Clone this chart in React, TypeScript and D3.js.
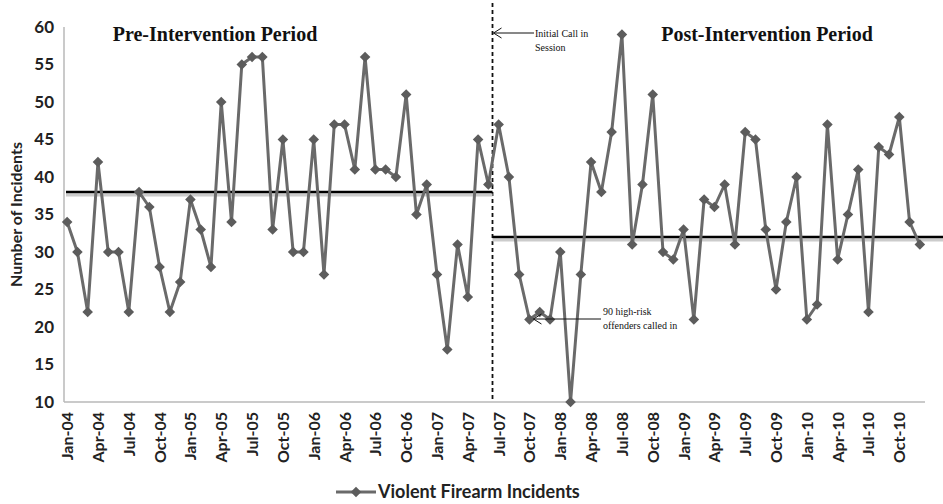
import * as d3 from 'd3'
import { useEffect, useRef } from 'react'

const MONTHS = ['Jan', 'Feb', 'Mar', 'Apr', 'May', 'Jun', 'Jul', 'Aug', 'Sep', 'Oct', 'Nov', 'Dec']
const YEARS = ['04', '05', '06', '07', '08', '09', '10']
const categories = YEARS.flatMap((y) => MONTHS.map((m) => `${m}-${y}`))

const preValues = [
  34, 30, 22, 42, 30, 30, 22, 38, 36, 28, 22, 26,
  37, 33, 28, 50, 34, 55, 56, 56, 33, 45, 30, 30,
  45, 27, 47, 47, 41, 56, 41, 41, 40, 51, 35, 39,
  27, 17, 31, 24, 45, 39,
]
const postValues = [
  47, 40, 27, 21, 22, 21,
  30, 10, 27, 42, 38, 46, 59, 31, 39, 51, 30, 29,
  33, 21, 37, 36, 39, 31, 46, 45, 33, 25, 34, 40,
  21, 23, 47, 29, 35, 41, 22, 44, 43, 48, 34, 31,
]
const values = [...preValues, ...postValues]
const preMean = 38
const postMean = 32
const yTicks = [10, 15, 20, 25, 30, 35, 40, 45, 50, 55, 60]

const W = 943
const H = 504
const sans = 'Lato, "Open Sans", sans-serif'
const serif = '"Liberation Serif", "DejaVu Serif", serif'

export default function App() {
  const ref = useRef<SVGSVGElement | null>(null)

  useEffect(() => {
    const svgEl = ref.current
    if (!svgEl) return
    const svg = d3.select(svgEl)
    svg.selectAll('*').remove()

    const left = 64
    const right = 925
    const top = 27
    const bottom = 402

    const x = d3.scaleBand<string>().domain(categories).range([left - 2, right])
    const cx = (c: string) => (x(c) ?? 0) + x.bandwidth() / 2
    const y = d3.scaleLinear().domain([10, 60]).range([bottom, top])

    // axis lines
    svg.append('line').attr('x1', left).attr('x2', left).attr('y1', top).attr('y2', bottom)
      .attr('stroke', '#b8b8b8').attr('stroke-width', 1.5)
    svg.append('line').attr('x1', left).attr('x2', right).attr('y1', bottom).attr('y2', bottom)
      .attr('stroke', '#b8b8b8').attr('stroke-width', 1.5)

    // y ticks
    svg.append('g').selectAll('text').data(yTicks).join('text')
      .attr('x', 54).attr('y', (d) => y(d)).attr('dy', '0.35em')
      .attr('text-anchor', 'end').attr('font-family', sans).attr('font-weight', 700)
      .attr('font-size', 17).attr('fill', '#222').text((d) => d)

    // x ticks (every 3 months)
    svg.append('g').selectAll('text').data(categories.filter((_, i) => i % 3 === 0)).join('text')
      .attr('transform', (d) => `translate(${cx(d) + 6},${bottom + 10}) rotate(-90)`)
      .attr('text-anchor', 'end').attr('font-family', sans).attr('font-weight', 700)
      .attr('font-size', 16).attr('fill', '#222').text((d) => d)

    // y axis title
    svg.append('text')
      .attr('transform', `translate(22,${(top + bottom) / 2}) rotate(-90)`)
      .attr('text-anchor', 'middle').attr('font-family', sans).attr('font-weight', 700)
      .attr('font-size', 16).attr('fill', '#222').text('Number of Incidents')

    // intervention divider
    const split = x(categories[preValues.length])!
    svg.append('line').attr('x1', split - 1).attr('x2', split - 1).attr('y1', 3).attr('y2', bottom)
      .attr('stroke', '#111').attr('stroke-width', 1.8).attr('stroke-dasharray', '4,3')

    // mean lines with soft shadow
    const means = [
      { x1: left + 2, x2: split - 1, v: preMean },
      { x1: split - 1, x2: W, v: postMean },
    ]
    means.forEach((m) => {
      svg.append('line').attr('x1', m.x1).attr('x2', m.x2).attr('y1', y(m.v) + 3).attr('y2', y(m.v) + 3)
        .attr('stroke', '#ccc').attr('stroke-width', 3)
      svg.append('line').attr('x1', m.x1).attr('x2', m.x2).attr('y1', y(m.v)).attr('y2', y(m.v))
        .attr('stroke', '#000').attr('stroke-width', 2.6)
    })

    // series
    const line = d3.line<number>().x((_, i) => cx(categories[i])).y((d) => y(d))
    svg.append('path').attr('d', line(values)).attr('fill', 'none')
      .attr('stroke', '#6a6a6a').attr('stroke-width', 3).attr('stroke-linejoin', 'round')
    const marker = d3.symbol().type(d3.symbolSquare).size(56)() as string
    svg.append('g').selectAll('path').data(values).join('path')
      .attr('transform', (d, i) => `translate(${cx(categories[i])},${y(d)}) rotate(45)`)
      .attr('d', marker)
      .attr('fill', '#5c5c5c')

    // period titles
    svg.append('text').attr('x', 215).attr('y', 41).attr('text-anchor', 'middle')
      .attr('font-family', serif).attr('font-weight', 700).attr('font-size', 20).attr('fill', '#111')
      .text('Pre-Intervention Period')
    svg.append('text').attr('x', 767).attr('y', 41).attr('text-anchor', 'middle')
      .attr('font-family', serif).attr('font-weight', 700).attr('font-size', 20).attr('fill', '#111')
      .text('Post-Intervention Period')

    // annotations
    const arrow = (x1: number, x2: number, yy: number) => {
      svg.append('line').attr('x1', x1).attr('x2', x2).attr('y1', yy).attr('y2', yy)
        .attr('stroke', '#111').attr('stroke-width', 1)
      svg.append('path').attr('d', `M${x2 + 8},${yy - 5} L${x2},${yy} L${x2 + 8},${yy + 5}`)
        .attr('fill', 'none').attr('stroke', '#111').attr('stroke-width', 1)
    }
    arrow(534, split, 33)
    svg.append('text').attr('x', 535).attr('y', 37).attr('font-family', serif).attr('font-size', 10)
      .attr('fill', '#111').text('Initial  Call in')
    svg.append('text').attr('x', 535).attr('y', 51).attr('font-family', serif).attr('font-size', 10)
      .attr('fill', '#111').text('Session')

    arrow(601, cx('Oct-07') + 4, 319)
    svg.append('text').attr('x', 603).attr('y', 315).attr('font-family', serif).attr('font-size', 10)
      .attr('fill', '#111').text('90 high-risk')
    svg.append('text').attr('x', 603).attr('y', 329).attr('font-family', serif).attr('font-size', 10)
      .attr('fill', '#111').text('offenders called in')

    // legend
    svg.append('line').attr('x1', 336).attr('x2', 376).attr('y1', 492).attr('y2', 492)
      .attr('stroke', '#6a6a6a').attr('stroke-width', 3)
    svg.append('path').attr('transform', 'translate(356,492) rotate(45)')
      .attr('d', marker).attr('fill', '#5c5c5c')
    svg.append('text').attr('x', 378).attr('y', 492).attr('dy', '0.35em')
      .attr('font-family', sans).attr('font-weight', 700).attr('font-size', 18).attr('fill', '#222')
      .text('Violent Firearm Incidents')
  }, [])

  return (
    <svg
      ref={ref}
      width={W}
      height={H}
      style={{ position: 'absolute', left: 0, top: 0, background: '#fff', display: 'block' }}
    />
  )
}
